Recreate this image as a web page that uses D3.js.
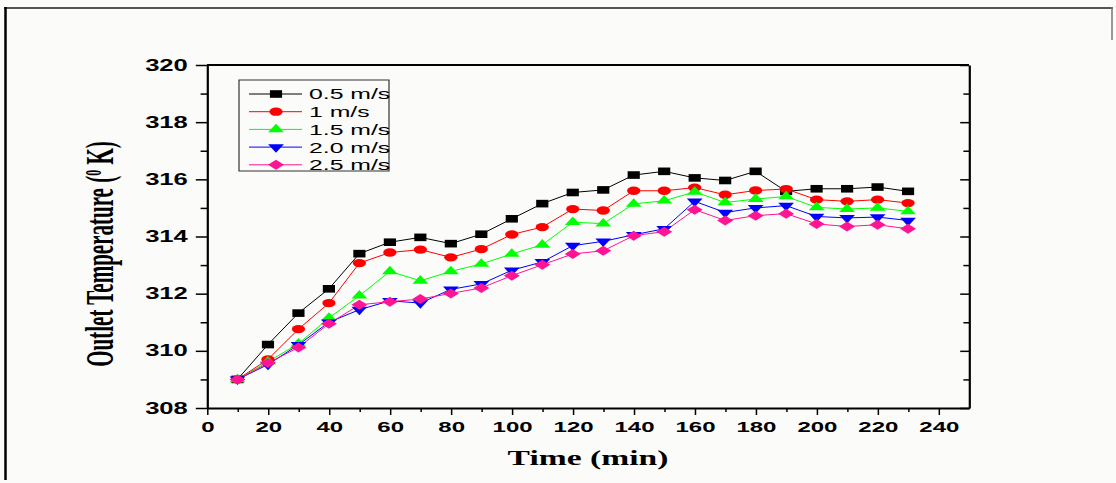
<!DOCTYPE html>
<html>
<head>
<meta charset="utf-8">
<script src="https://cdn.jsdelivr.net/npm/d3@7"></script>
<style>
  html, body { margin: 0; padding: 0; background: #fbfbfa; }
  svg { display: block; }
  svg path, svg line, svg rect { vector-effect: non-scaling-stroke; }
</style>
</head>
<body>
<svg id="chart" width="1116" height="483"></svg>
<script>
// time axis (min)
const time = [10, 20, 30, 40, 50, 60, 70, 80, 90, 100, 110, 120, 130, 140, 150, 160, 170, 180, 190, 200, 210, 220, 230];

// outlet temperature (K) per air velocity
const temp05 = [309.0, 310.22, 311.32, 312.17, 313.4, 313.8, 313.97, 313.75, 314.08, 314.62, 315.15, 315.54, 315.63, 316.15, 316.28, 316.05, 315.96, 316.28, 315.58, 315.67, 315.67, 315.73, 315.58];
const temp10 = [309.0, 309.7, 310.76, 311.67, 313.07, 313.44, 313.54, 313.27, 313.56, 314.07, 314.33, 314.96, 314.91, 315.6, 315.6, 315.71, 315.46, 315.61, 315.66, 315.29, 315.23, 315.29, 315.17];
const temp15 = [309.0, 309.62, 310.25, 311.15, 311.93, 312.78, 312.45, 312.78, 313.04, 313.39, 313.71, 314.5, 314.45, 315.14, 315.25, 315.56, 315.19, 315.31, 315.4, 315.02, 314.96, 315.0, 314.88];
const temp20 = [309.0, 309.52, 310.21, 311.0, 311.44, 311.75, 311.67, 312.15, 312.34, 312.82, 313.11, 313.68, 313.83, 314.06, 314.27, 315.23, 314.84, 315.0, 315.08, 314.7, 314.65, 314.68, 314.56];
const temp25 = [309.0, 309.57, 310.12, 310.95, 311.61, 311.72, 311.81, 312.01, 312.2, 312.63, 313.01, 313.39, 313.5, 314.03, 314.17, 314.94, 314.56, 314.73, 314.8, 314.44, 314.35, 314.41, 314.27];

const seriesNames = ['0.5 m/s', '1 m/s', '1.5 m/s', '2.0 m/s', '2.5 m/s'];
const seriesValues = [temp05, temp10, temp15, temp20, temp25];

const xTicks = [0, 20, 40, 60, 80, 100, 120, 140, 160, 180, 200, 220, 240];
const xMinor = [10, 30, 50, 70, 90, 110, 130, 150, 170, 190, 210, 230];
const yTicks = [308, 310, 312, 314, 316, 318, 320];
const yMinor = [309, 311, 313, 315, 317, 319];

// figure is drawn wider than tall: everything goes through a horizontal stretch
const sx = 1.6;
const colors = ['#000000', '#ff0000', '#00ff00', '#0000ff', '#ff1493'];
const symbols = [
  {type: d3.symbolSquare, size: 58, rot: 0},
  {type: d3.symbolCircle, size: 54, rot: 0},
  {type: d3.symbolTriangle, size: 42, rot: 0},
  {type: d3.symbolTriangle, size: 42, rot: 180},
  {type: d3.symbolSquare, size: 50, rot: 45}
];

const plot = {left: 207, right: 969, top: 65, bottom: 408};

const svg = d3.select('#chart');

// page frame
svg.append('line').attr('x1', 4).attr('x2', 1113).attr('y1', 8).attr('y2', 8)
  .attr('stroke', '#555').attr('stroke-width', 2);
svg.append('line').attr('x1', 5.5).attr('x2', 5.5).attr('y1', 7).attr('y2', 480)
  .attr('stroke', '#000').attr('stroke-width', 2.5);
svg.append('line').attr('x1', 1112).attr('x2', 1112).attr('y1', 7).attr('y2', 40)
  .attr('stroke', '#777').attr('stroke-width', 1.5);

const g = svg.append('g').attr('transform', `scale(${sx},1)`);

const x = d3.scaleLinear().domain([0, 250]).range([plot.left / sx, plot.right / sx]);
const y = d3.scaleLinear().domain([308, 320]).range([plot.bottom, plot.top]);

// axes
const tickFont = '"Liberation Sans", Arial, sans-serif';

const xAxisG = g.append('g').attr('transform', `translate(0,${plot.bottom})`)
  .call(d3.axisBottom(x).tickValues(xTicks).tickSize(7).tickPadding(6).tickSizeOuter(0));
g.append('g').attr('transform', `translate(0,${plot.bottom})`)
  .call(d3.axisBottom(x).tickValues(xMinor).tickSize(4).tickFormat('').tickSizeOuter(0))
  .select('.domain').remove();

const yAxisG = g.append('g').attr('transform', `translate(${x(0)},0)`)
  .call(d3.axisLeft(y).tickValues(yTicks).tickSize(7).tickPadding(5).tickSizeOuter(0));
g.append('g').attr('transform', `translate(${x(0)},0)`)
  .call(d3.axisLeft(y).tickValues(yMinor).tickSize(4).tickFormat('').tickSizeOuter(0))
  .select('.domain').remove();

// right axis, ticks pointing inward
g.append('g').attr('transform', `translate(${x(250)},0)`)
  .call(d3.axisLeft(y).tickValues(yTicks).tickSize(5.5).tickFormat('').tickSizeOuter(0));
g.append('g').attr('transform', `translate(${x(250)},0)`)
  .call(d3.axisLeft(y).tickValues(yMinor).tickSize(3.5).tickFormat('').tickSizeOuter(0))
  .select('.domain').remove();

// top frame line
g.append('line').attr('x1', x(0)).attr('x2', x(250)).attr('y1', plot.top).attr('y2', plot.top)
  .attr('stroke', '#000').attr('stroke-width', 2);

g.selectAll('.domain').attr('stroke-width', 2.2);
g.selectAll('.tick line').attr('stroke-width', 1.5);

xAxisG.selectAll('text').attr('font-family', tickFont).attr('font-weight', 'bold')
  .attr('font-size', 15).attr('fill', '#000');
yAxisG.selectAll('text').attr('font-family', tickFont).attr('font-weight', 'bold')
  .attr('font-size', 16).attr('fill', '#000');

// axis titles
g.append('text')
  .attr('x', (plot.left + plot.right) / 2 / sx).attr('y', 465)
  .attr('text-anchor', 'middle')
  .attr('font-family', '"Liberation Serif", "Times New Roman", serif')
  .attr('font-weight', 'bold').attr('font-size', 21)
  .text('Time (min)');

const yTitle = g.append('text')
  .attr('transform', `translate(${113 / sx},${254}) rotate(-90) scale(1,1.18)`)
  .attr('text-anchor', 'middle')
  .attr('font-family', '"Liberation Serif", "Times New Roman", serif')
  .attr('font-weight', 'bold').attr('font-size', 21);
yTitle.append('tspan').text('Outlet Temperature (');
yTitle.append('tspan').attr('font-size', 12).attr('baseline-shift', '55%').text('0');
yTitle.append('tspan').text(' K)');

// series lines and markers
const line = d3.line().x((d, i) => x(time[i])).y(d => y(d));

seriesValues.forEach((vals, s) => {
  g.append('path')
    .datum(vals)
    .attr('d', line)
    .attr('fill', 'none')
    .attr('stroke', colors[s])
    .attr('stroke-width', 1);
});

seriesValues.forEach((vals, s) => {
  const sym = d3.symbol().type(symbols[s].type).size(symbols[s].size);
  g.append('g').selectAll('path')
    .data(vals)
    .join('path')
    .attr('d', sym)
    .attr('transform', (d, i) => `translate(${x(time[i])},${y(d)}) rotate(${symbols[s].rot})`)
    .attr('fill', colors[s]);
});

// legend
const legend = g.append('g');
legend.append('rect')
  .attr('x', 239 / sx).attr('y', 80)
  .attr('width', 150 / sx).attr('height', 91)
  .attr('fill', '#fbfbfa').attr('stroke', '#333').attr('stroke-width', 1.2);

seriesNames.forEach((name, s) => {
  const ly = 94 + s * 17.7;
  legend.append('line')
    .attr('x1', 249 / sx).attr('x2', 302 / sx).attr('y1', ly).attr('y2', ly)
    .attr('stroke', colors[s]).attr('stroke-width', 1);
  legend.append('path')
    .attr('d', d3.symbol().type(symbols[s].type).size(symbols[s].size)())
    .attr('transform', `translate(${276 / sx},${ly}) rotate(${symbols[s].rot})`)
    .attr('fill', colors[s]);
  legend.append('text')
    .attr('x', 309 / sx).attr('y', ly + 5.5)
    .attr('font-family', tickFont).attr('font-size', 15.5)
    .attr('fill', '#000')
    .text(name);
});
</script>
</body>
</html>
